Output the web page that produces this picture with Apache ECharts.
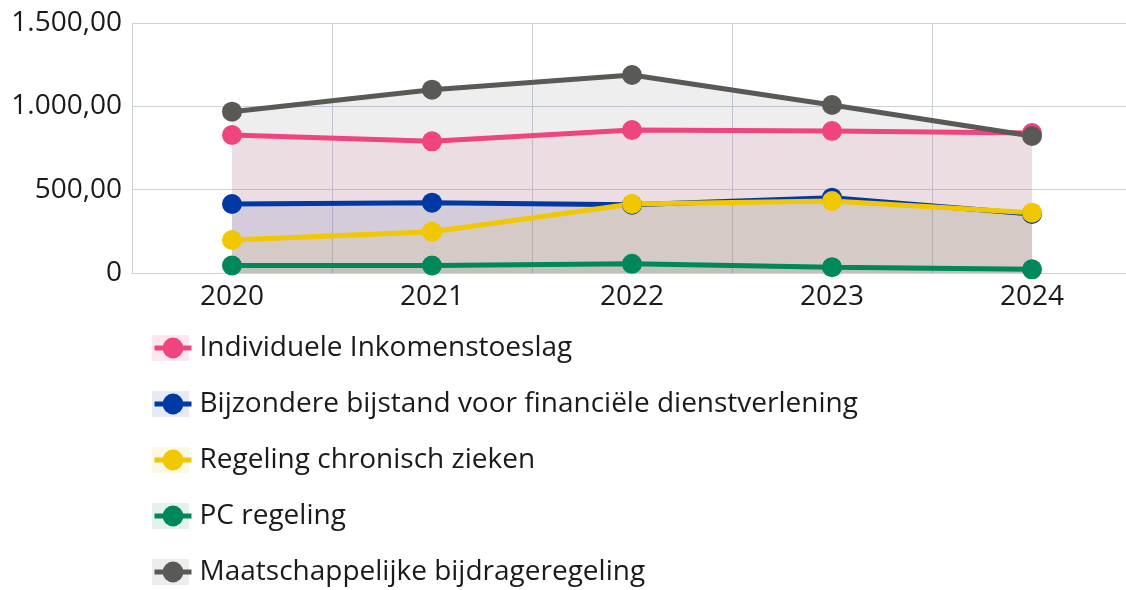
<!DOCTYPE html>
<html>
<head>
<meta charset="utf-8">
<script src="https://cdn.jsdelivr.net/npm/echarts@6/dist/echarts.min.js"></script>
<style>
  html, body { margin: 0; background: #fff; }
  #main { width: 1126px; height: 590px; }
</style>
</head>
<body>
<div id="main"></div>
<script>
// data
const years = ['2020', '2021', '2022', '2023', '2024'];
const seriesNames = [
  'Individuele Inkomenstoeslag',
  'Bijzondere bijstand voor financiële dienstverlening',
  'Regeling chronisch zieken',
  'PC regeling',
  'Maatschappelijke bijdrageregeling'
];
const inkomenstoeslag = [828, 790, 858, 852, 840];
const bijzondereBijstand = [414, 422, 410, 452, 354];
const chronischZieken = [198, 248, 414, 432, 362];
const pcRegeling = [45, 45, 55, 35, 22];
const maatschappelijk = [968, 1100, 1188, 1008, 822];
const yTicks = [0, 500, 1000, 1500];

const colors = ['#ef447d', '#0039a3', '#f0c700', '#00875a', '#595955'];
const tints = ['#fde6ee', '#e5eaf5', '#fdf8e3', '#e3f2ec', '#ededed'];
const allValues = [inkomenstoeslag, bijzondereBijstand, chronischZieken, pcRegeling, maatschappelijk];

// 1500 -> "1.500,00"
function nlFormat(v) {
  if (v === 0) return '0';
  const parts = v.toFixed(2).split('.');
  return parts[0].replace(/\B(?=(\d{3})+(?!\d))/g, '.') + ',' + parts[1];
}

const font = '"Open Sans", "Noto Sans", sans-serif';
const gridColor = '#cbd2de';

var myChart = echarts.init(document.getElementById('main'));

const legendBase = {
  orient: 'vertical',
  left: 152,
  top: 334,
  padding: 0,
  itemWidth: 37,
  itemHeight: 26,
  itemGap: 28,
  textStyle: { fontSize: 28, fontFamily: font, color: '#1a1a1a', padding: [0, 0, 0, 3] }
};

myChart.setOption({
  animation: false,
  color: colors,
  grid: { left: 132, top: 23, width: 1000, height: 250, outerBoundsMode: 'none', containLabel: false },
  legend: [
    // background squares behind the legend icons
    Object.assign({}, legendBase, {
      selectedMode: false,
      itemStyle: { borderWidth: 0 },
      textStyle: Object.assign({}, legendBase.textStyle, { color: 'transparent' }),
      data: seriesNames.map((n, i) => ({ name: n, icon: 'rect', itemStyle: { color: tints[i], borderWidth: 0 } }))
    }),
    Object.assign({}, legendBase, { lineStyle: { width: 5 }, data: seriesNames })
  ],
  xAxis: {
    type: 'category',
    data: years,
    boundaryGap: true,
    axisLine: { lineStyle: { color: gridColor, width: 1 } },
    axisTick: { show: false },
    axisLabel: { fontSize: 28, fontFamily: font, color: '#1a1a1a', margin: 10 },
    splitLine: { show: true, lineStyle: { color: gridColor, width: 1 } }
  },
  yAxis: {
    type: 'value',
    min: yTicks[0],
    max: yTicks[yTicks.length - 1],
    interval: 500,
    axisLine: { show: true, lineStyle: { color: gridColor, width: 1 } },
    axisTick: { show: false },
    axisLabel: { fontSize: 28, fontFamily: font, color: '#1a1a1a', margin: 10, formatter: nlFormat },
    splitLine: { lineStyle: { color: gridColor, width: 1 } }
  },
  series: seriesNames.map((name, i) => ({
    name: name,
    type: 'line',
    data: allValues[i],
    symbol: 'circle',
    symbolSize: 20,
    lineStyle: { width: 5, color: colors[i] },
    itemStyle: { color: colors[i], borderWidth: 0 },
    areaStyle: { color: colors[i], opacity: 0.1 },
    emphasis: { disabled: true }
  }))
});
</script>
</body>
</html>
